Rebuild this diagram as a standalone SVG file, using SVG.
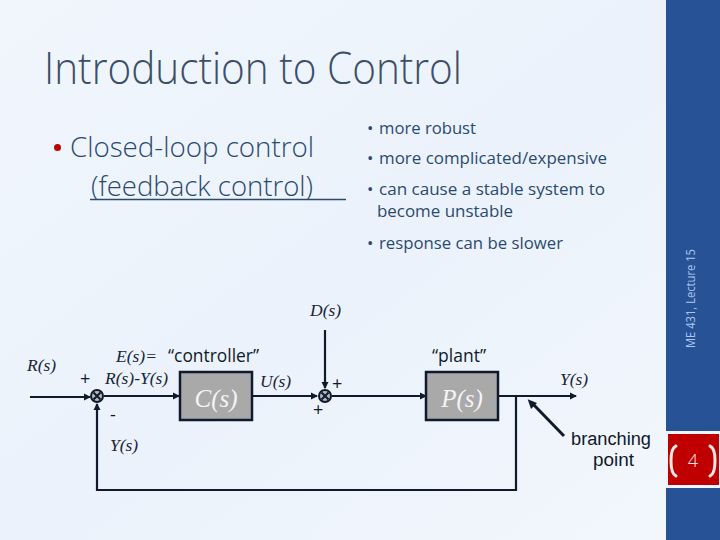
<svg xmlns="http://www.w3.org/2000/svg" width="720" height="540" viewBox="0 0 720 540">
<style>
.b{font-family:"Open Sans","Noto Sans",sans-serif;fill:#2b4a70}
.s{font-size:17px}
.m{font-family:"Open Sans","Noto Sans",sans-serif;fill:#0f1a2c;font-size:18px}
.n{font-family:"Liberation Sans",sans-serif;fill:#0f1a2c;font-size:18px}
.i{font-family:"Liberation Serif",serif;font-style:italic;font-size:17.500px;fill:#1a2538}
.w{font-family:"Liberation Serif",serif;font-style:italic;font-size:25px;fill:#f4f4f4;text-anchor:middle}
.l{fill:none;stroke:#0f1a2c;stroke-width:2.200}
.box{fill:#a9a9a9;stroke:#0f1a2c;stroke-width:2.500}
.j{fill:#0f1a2c}
.g{fill:#b4b8bc}
.x{stroke:#0f1a2c;stroke-width:2}
.br{fill:none;stroke:#f6e6e6;stroke-width:3;stroke-linecap:round}
</style>
<defs>
<linearGradient id="bg" x1="0" y1="0" x2="1" y2="1"><stop offset="0" stop-color="#f1f6fd"/><stop offset="0.5" stop-color="#ebf2fb"/><stop offset="1" stop-color="#f3f7fd"/></linearGradient>
<marker id="a" markerWidth="8" markerHeight="8" refX="6" refY="4" orient="auto" markerUnits="userSpaceOnUse"><path d="M0 .5L7 4L0 7.500z" fill="#0f1a2c"/></marker>
</defs>
<rect width="720" height="540" fill="url(#bg)"/>
<rect x="666" width="54" height="540" fill="#275296"/>
<rect x="666" y="431" width="54" height="57" fill="#f1f6fd"/>
<rect x="668" y="434" width="51" height="51" fill="#c00000"/>
<g id="title"><text x="44" y="84" class="b" font-size="44" font-weight="300" textLength="418" lengthAdjust="spacingAndGlyphs" style="fill:#3d4f66">Introduction to Control</text></g>
<g id="left-text">
<circle cx="57.500" cy="147.500" r="3.500" fill="#c00000"/>
<text x="70" y="157" class="b" font-size="27" font-weight="300" textLength="244" lengthAdjust="spacingAndGlyphs">Closed-loop control</text>
<text x="91" y="196" class="b" font-size="27" font-weight="300" textLength="222" lengthAdjust="spacingAndGlyphs">(feedback control)</text>
<path d="M90 199.500H346" stroke="#2b4a70" stroke-width="1.500"/>
</g>
<g id="right-text">
<text x="367" y="134" class="b s">•</text><text x="379" y="134" class="b s" textLength="97" lengthAdjust="spacingAndGlyphs">more robust</text>
<text x="367" y="164" class="b s">•</text><text x="379" y="164" class="b s" textLength="228" lengthAdjust="spacingAndGlyphs">more complicated/expensive</text>
<text x="367" y="195" class="b s">•</text><text x="379" y="195" class="b s" textLength="226" lengthAdjust="spacingAndGlyphs">can cause a stable system to</text>
<text x="377" y="217" class="b s" textLength="136" lengthAdjust="spacingAndGlyphs">become unstable</text>
<text x="367" y="249" class="b s">•</text><text x="379" y="249" class="b s" textLength="184" lengthAdjust="spacingAndGlyphs">response can be slower</text>
</g>
<g id="sidebar"><text transform="translate(695 348) rotate(-90)" font-family="'Open Sans','Noto Sans',sans-serif" font-size="12" fill="#a9c6ee" textLength="99" lengthAdjust="spacingAndGlyphs">ME 431, Lecture 15</text></g>
<g id="page">
<path class="br" d="M676 446Q671 448 671 461Q671 474 676 476"/>
<path class="br" d="M710 446Q715 448 715 461Q715 474 710 476"/>
<text x="693" y="467" font-family="'Open Sans','Noto Sans',sans-serif" font-size="18" font-weight="300" fill="#f6e6e6" text-anchor="middle">4</text>
</g>
<g id="connectors">
<path class="l" d="M30 397H90" marker-end="url(#a)"/>
<path class="l" d="M104 396H179" marker-end="url(#a)"/>
<path class="l" d="M253 396H317" marker-end="url(#a)"/>
<path class="l" d="M325 330V388" marker-end="url(#a)"/>
<path class="l" d="M332 396H426" marker-end="url(#a)"/>
<path class="l" d="M498 396H576" marker-end="url(#a)"/>
<path class="l" d="M516 396V490H97V404" marker-end="url(#a)"/>
<path d="M564 436L532 403" fill="none" stroke="#0f1a2c" stroke-width="3"/>
<path d="M527.700 399.300L537 403L531 409z" fill="#0f1a2c"/>
</g>
<g id="sum1"><circle class="j" cx="97" cy="396" r="7"/><circle class="g" cx="97" cy="396" r="5"/><path class="x" d="M93.500 392.500L100.500 399.500M100.500 392.500L93.500 399.500"/></g>
<g id="sum2"><circle class="j" cx="325" cy="396" r="7"/><circle class="g" cx="325" cy="396" r="5"/><path class="x" d="M321.500 392.500L328.500 399.500M328.500 392.500L321.500 399.500"/></g>
<g id="controller"><rect class="box" x="180" y="372" width="72" height="48"/><text class="w" x="216" y="407">C(s)</text></g>
<g id="plant"><rect class="box" x="426" y="372" width="72" height="48"/><text class="w" x="462" y="407">P(s)</text></g>
<g id="labels">
<text class="i" x="27" y="371">R(s)</text>
<text class="m" x="80" y="385">+</text>
<text class="i" x="116" y="362">E(s)=</text>
<text class="m" x="168" y="362" textLength="91" lengthAdjust="spacingAndGlyphs">“controller”</text>
<text class="i" x="105" y="384">R(s)-Y(s)</text>
<text class="i" x="260" y="387">U(s)</text>
<text class="i" x="310" y="316">D(s)</text>
<text class="m" x="332" y="390">+</text>
<text class="m" x="313" y="416">+</text>
<text class="m" x="110" y="421">-</text>
<text class="i" x="110" y="451">Y(s)</text>
<text class="m" x="432" y="362" textLength="54" lengthAdjust="spacingAndGlyphs">“plant”</text>
<text class="i" x="560" y="385">Y(s)</text>
<text class="n" x="571" y="445" textLength="80" lengthAdjust="spacingAndGlyphs">branching</text>
<text class="n" x="593" y="466" textLength="41" lengthAdjust="spacingAndGlyphs">point</text>
</g>
</svg>
